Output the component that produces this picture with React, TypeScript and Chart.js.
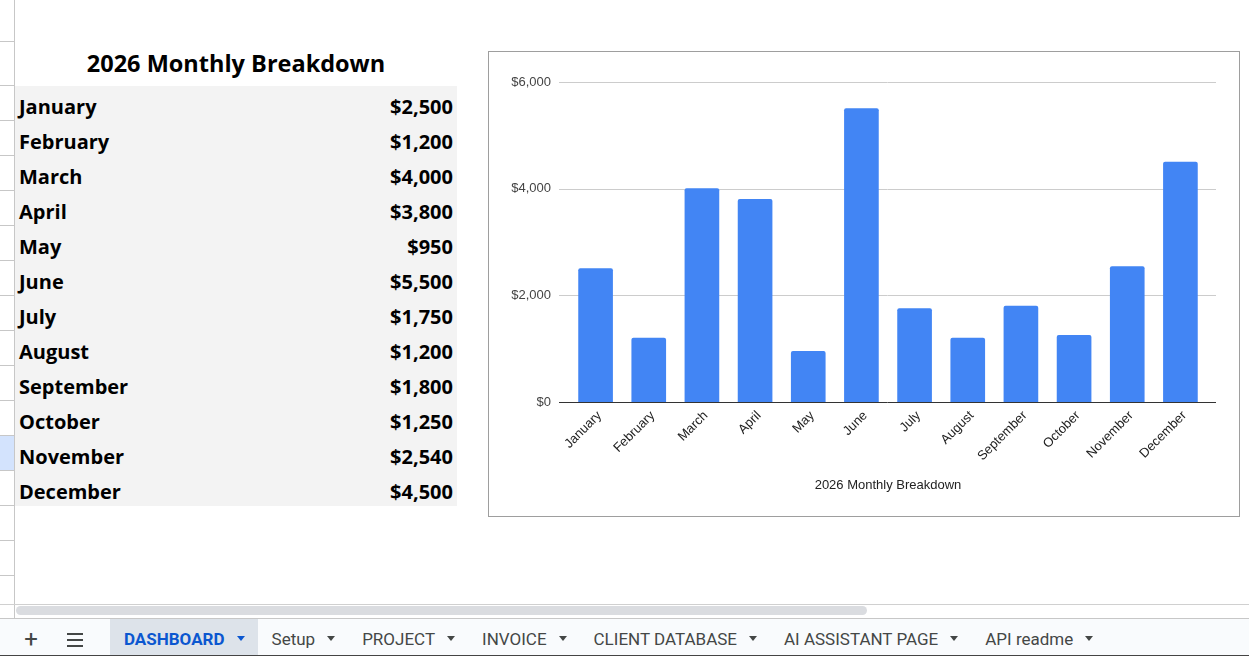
import React, { useEffect, useRef } from 'react';
import { Chart, registerables } from 'chart.js';

Chart.register(...registerables);

const months = ['January', 'February', 'March', 'April', 'May', 'June', 'July', 'August', 'September', 'October', 'November', 'December'];
const amounts = [2500, 1200, 4000, 3800, 950, 5500, 1750, 1200, 1800, 1250, 2540, 4500];
const yMax = 6000;
const yStep = 2000;
const chartTitle = '2026 Monthly Breakdown';
const sheetTabs = ['DASHBOARD', 'Setup', 'PROJECT', 'INVOICE', 'CLIENT DATABASE', 'AI ASSISTANT PAGE', 'API readme'];
const activeTab = 'DASHBOARD';

const fmt = (v: number) => '$' + v.toLocaleString('en-US');

const gsPlugin = {
  id: 'gsGrid',
  beforeDatasetsDraw(chart: any) {
    const { ctx, chartArea, scales } = chart;
    const y = scales.y;
    ctx.save();
    ctx.strokeStyle = '#cccccc';
    ctx.lineWidth = 1;
    y.ticks.forEach((t: any) => {
      if (t.value === 0) return;
      const py = Math.round(y.getPixelForValue(t.value)) + 0.5;
      ctx.beginPath();
      ctx.moveTo(chartArea.left - 10, py);
      ctx.lineTo(chartArea.right + 9, py);
      ctx.stroke();
    });
    ctx.restore();
  },
  afterDatasetsDraw(chart: any) {
    const { ctx, chartArea, scales } = chart;
    const y = scales.y;
    const py = Math.round(y.getPixelForValue(0)) + 0.5;
    ctx.save();
    ctx.strokeStyle = '#333333';
    ctx.lineWidth = 1;
    ctx.beginPath();
    ctx.moveTo(chartArea.left - 10, py);
    ctx.lineTo(chartArea.right + 9, py);
    ctx.stroke();
    ctx.restore();
  },
};

const chartFont = '"Liberation Sans", Arial, sans-serif';

function BarChart() {
  const ref = useRef<HTMLCanvasElement>(null);
  useEffect(() => {
    if (!ref.current) return;
    const chart = new Chart(ref.current, {
      type: 'bar',
      data: {
        labels: months,
        datasets: [
          {
            label: chartTitle,
            data: amounts,
            backgroundColor: '#4285f4',
            borderRadius: { topLeft: 2, topRight: 2, bottomLeft: 0, bottomRight: 0 },
            borderSkipped: 'bottom',
            barThickness: 34,
          },
        ],
      },
      options: {
        responsive: false,
        animation: false,
        layout: { padding: { left: 0, right: 32, top: 30, bottom: 0 } },
        plugins: { legend: { display: false }, tooltip: { enabled: false } },
        scales: {
          x: {
            grid: { display: false, drawTicks: false },
            border: { display: false },
            ticks: {
              minRotation: 45,
              maxRotation: 45,
              autoSkip: false,
              padding: 6,
              labelOffset: 4,
              color: '#222222',
              font: { family: chartFont, size: 13 },
            },
            title: {
              display: true,
              text: chartTitle,
              color: '#222222',
              font: { family: chartFont, size: 13 },
              padding: { top: 0, bottom: 23 },
            },
            afterFit: (s: any) => {
              s.height = 114;
            },
          },
          y: {
            min: 0,
            max: yMax,
            grid: { display: false, drawTicks: false },
            border: { display: false },
            ticks: {
              stepSize: yStep,
              padding: 18,
              color: '#444444',
              font: { family: chartFont, size: 13 },
              callback: (v: any) => fmt(Number(v)),
            },
            afterFit: (s: any) => {
              s.width = 80;
            },
          },
        },
      },
      plugins: [gsPlugin],
    });
    return () => chart.destroy();
  }, []);
  return <canvas ref={ref} width={750} height={464} style={{ position: 'absolute', left: 0, top: 0, width: 750, height: 464 }} />;
}

const gutterLines = [41, 85, 120, 155, 190, 225, 260, 295, 330, 365, 400, 435, 470, 505, 540, 575];

export default function App() {
  useEffect(() => {
    document.body.style.margin = '0';
  }, []);
  const tableFont = '"Open Sans", "DejaVu Sans", sans-serif';
  return (
    <div style={{ position: 'fixed', left: 0, top: 0, width: 1249, height: 656, background: '#ffffff', overflow: 'hidden' }}>
      {/* row-header gutter */}
      <div style={{ position: 'absolute', left: 0, top: 435, width: 14, height: 35, background: '#d3e3fd' }} />
      {gutterLines.map((y) => (
        <div key={y} style={{ position: 'absolute', left: 0, top: y, width: 14, height: 1, background: '#c7c7c7' }} />
      ))}
      <div style={{ position: 'absolute', left: 14, top: 0, width: 1, height: 618, background: '#c7c7c7' }} />

      {/* table title */}
      <div
        style={{
          position: 'absolute', left: 15, top: 41, width: 442, height: 44,
          display: 'flex', alignItems: 'center', justifyContent: 'center',
          fontFamily: tableFont, fontWeight: 700, fontSize: 23.5, color: '#000',
        }}
      >
        {chartTitle}
      </div>
      {/* table rows */}
      {months.map((m, i) => (
        <div
          key={m}
          style={{
            position: 'absolute', left: 15, top: 86 + i * 35, width: 442, height: 35,
            background: '#f3f3f3', boxSizing: 'border-box', padding: '0 4px 0 4px',
            display: 'flex', alignItems: 'flex-end', justifyContent: 'space-between',
            fontFamily: tableFont, fontWeight: 700, fontSize: 20, color: '#000', lineHeight: '28px',
          }}
        >
          <span>{m}</span>
          <span>{fmt(amounts[i])}</span>
        </div>
      ))}

      {/* chart box */}
      <div
        style={{
          position: 'absolute', left: 488, top: 51, width: 752, height: 466,
          border: '1px solid #9e9e9e', boxSizing: 'border-box', background: '#fff',
        }}
      >
        <BarChart />
      </div>

      {/* horizontal scrollbar */}
      <div style={{ position: 'absolute', left: 0, top: 604, width: 1249, height: 1, background: '#d0d0d0' }} />
      <div style={{ position: 'absolute', left: 16, top: 606, width: 851, height: 9, borderRadius: 5, background: '#dadce0' }} />
      <div style={{ position: 'absolute', left: 0, top: 618, width: 1249, height: 1, background: '#c7c7c7' }} />

      {/* sheet tab bar */}
      <div style={{ position: 'absolute', left: 0, top: 619, width: 1249, height: 36, background: '#f9fbfd' }} />
      <div style={{ position: 'absolute', left: 0, top: 655, width: 1249, height: 1, background: '#444' }} />
      <div style={{ position: 'absolute', left: 22, top: 621, width: 18, height: 36, display: 'flex', alignItems: 'center', justifyContent: 'center', fontFamily: 'Roboto, sans-serif', fontSize: 24, color: '#444746' }}>+</div>
      {[633, 639, 645].map((y) => (
        <div key={y} style={{ position: 'absolute', left: 67, top: y, width: 16, height: 2, background: '#444746' }} />
      ))}
      <div style={{ position: 'absolute', left: 110, top: 619, height: 36, display: 'flex' }}>
        {sheetTabs.map((t) => {
          const active = t === activeTab;
          const color = active ? '#0b57d0' : '#444746';
          return (
            <div
              key={t}
              style={{
                height: 36, boxSizing: 'border-box', display: 'flex', alignItems: 'center', padding: '3px 13px 0 14px',
                background: active ? '#dde3ea' : 'transparent',
                fontFamily: 'Roboto, sans-serif', fontSize: 17, fontWeight: active ? 700 : 400, color,
                whiteSpace: 'nowrap',
              }}
            >
              <span>{t}</span>
              <span style={{ display: 'inline-block', marginLeft: 12, width: 0, height: 0, borderLeft: '4px solid transparent', borderRight: '4px solid transparent', borderTop: `5px solid ${color}` }} />
            </div>
          );
        })}
      </div>
    </div>
  );
}
